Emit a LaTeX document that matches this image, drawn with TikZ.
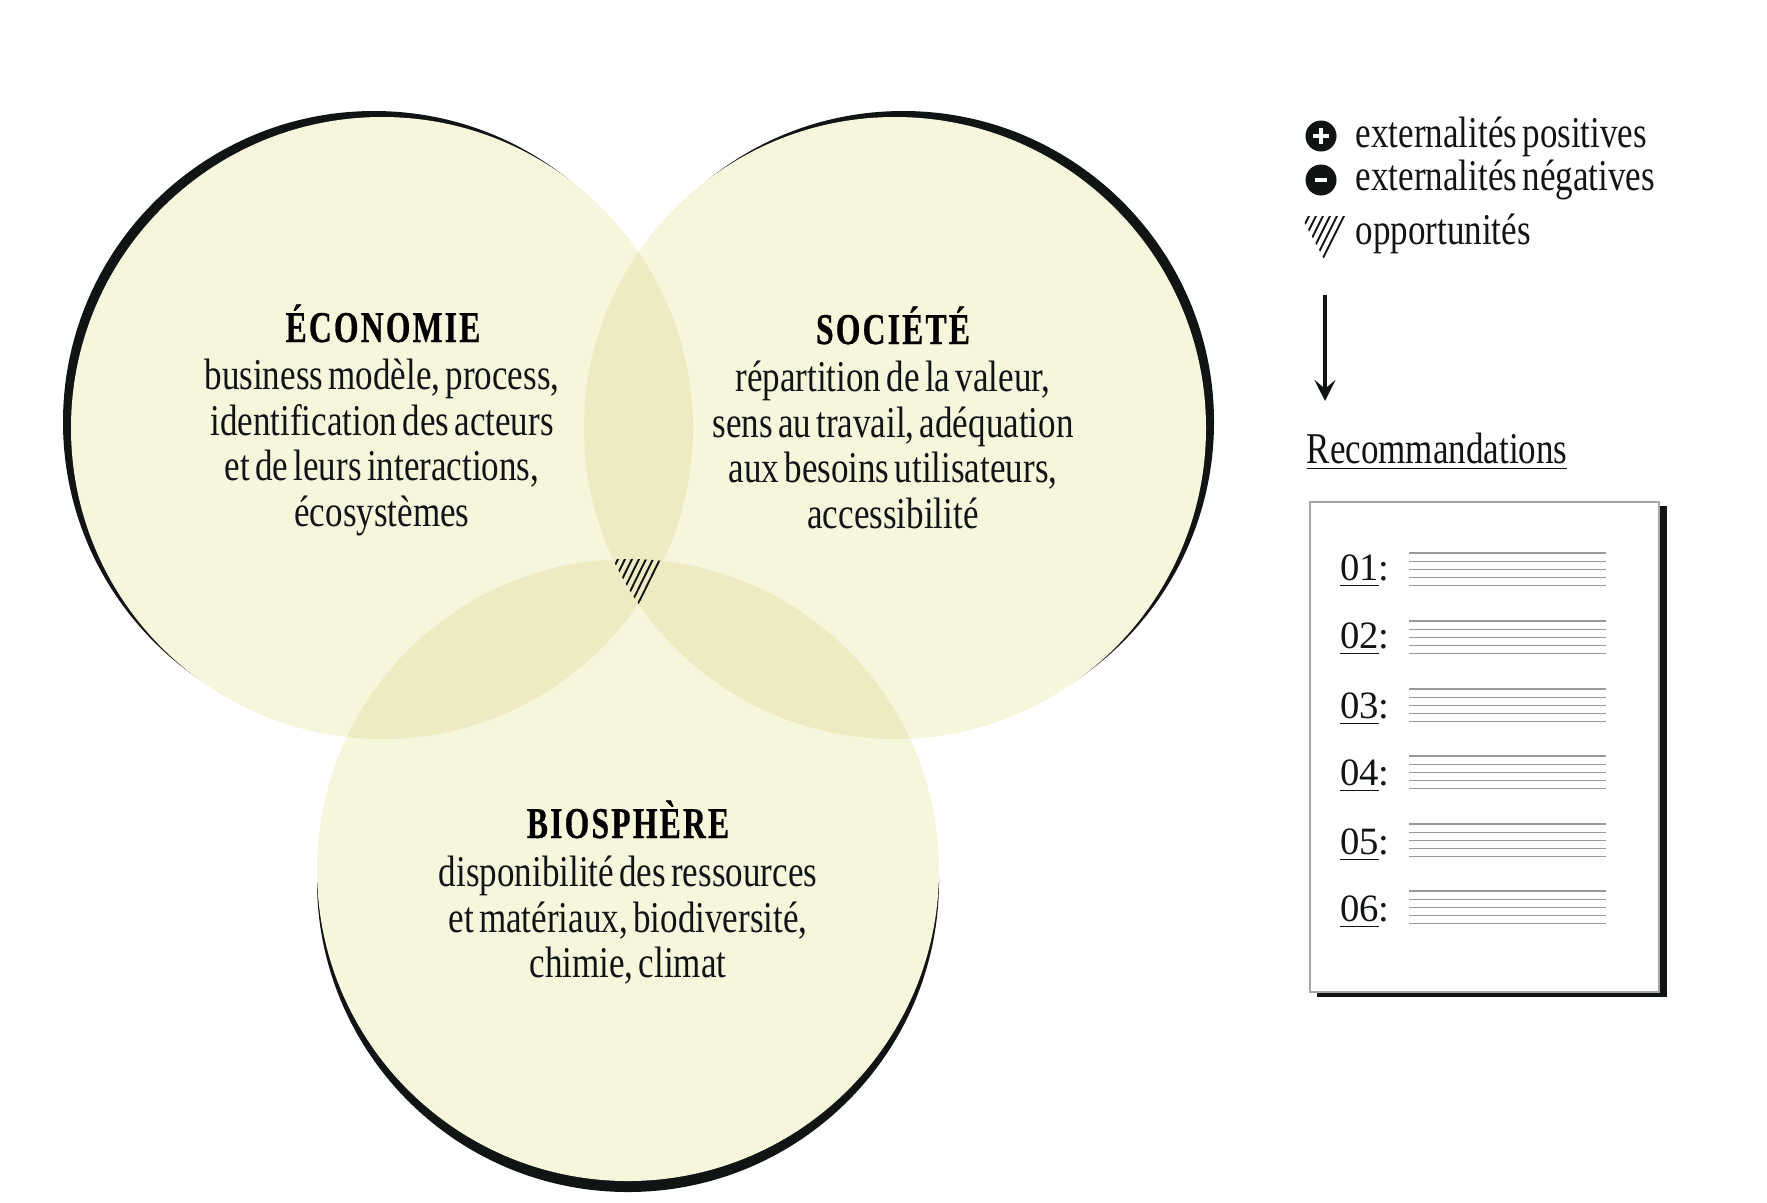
\documentclass[tikz,border=0pt]{standalone}
\usepackage{fontspec}
\usepackage{xcolor}
\usetikzlibrary{arrows.meta, positioning}
\newfontfamily\bodyfont[FakeStretch=0.797, WordSpace=0.6]{Liberation Serif}
\newfontfamily\titlefont[FakeStretch=0.72, LetterSpace=5, BoldFeatures={FakeBold=0.6}]{Liberation Serif}
\newfontfamily\numfont{Liberation Serif}
\definecolor{paleyellow}{HTML}{F6F6DD}
\definecolor{overlapyellow}{HTML}{EEEBC3}
\definecolor{inkblack}{HTML}{111415}
\tikzset{
  titlelabel/.style={anchor=base, inner sep=0pt, text=black, font=\titlefont\bfseries\fontsize{12.5}{13}\selectfont},
  bodylabel/.style={anchor=north, inner sep=0pt, align=center, text=inkblack, font=\bodyfont\fontsize{12.5}{13}\selectfont},
  legendlabel/.style={anchor=base west, inner sep=0pt, text=inkblack, font=\bodyfont\fontsize{12.5}{13}\selectfont},
  numlabel/.style={anchor=base, inner sep=0pt, text=inkblack, font=\numfont\fontsize{11}{12}\selectfont},
  signdot/.style={circle, fill=inkblack, minimum size=0.31cm, inner sep=0pt},
  signbar/.style={white, line width=1.1pt},
  hatchline/.style={inkblack, line width=0.55pt},
  ruleline/.style={black!40, line width=0.35pt},
}
\begin{document}
\begin{tikzpicture}[x=0.01cm, y=-0.01cm]
  \useasboundingbox (0,0) rectangle (1767,1202);
  % Circles
  \foreach \cx/\cy/\dx/\dy in {382/428/-8/-6, 895/428/8/-6, 628/870/0/11} {
    \fill[inkblack] (\cx+\dx, \cy+\dy) circle (311);
  }
  \foreach \cx/\cy in {382/428, 895/428, 628/870} {
    \fill[paleyellow] (\cx, \cy) circle (311);
  }
  % Overlaps
  \foreach \ax/\ay/\bx/\by in {382/428/895/428, 382/428/628/870, 895/428/628/870} {
    \begin{scope}
      \clip (\ax, \ay) circle (311);
      \fill[overlapyellow] (\bx, \by) circle (311);
    \end{scope}
  }
  % Hatching of the centre
  \begin{scope}
    \clip (382, 428) circle (311);
    \clip (895, 428) circle (311);
    \clip (628, 870) circle (311);
    \foreach \x in {620, 627, 634, 641, 648, 655, 662, 669} {
      \draw[hatchline] (\x, 555) -- (\x-27, 610);
    }
  \end{scope}
  % Labels
  \node[titlelabel] (econTitle) at (383, 342) {ÉCONOMIE};
  \node[bodylabel] (econBody) at (382, 358) {business modèle, process,\\identification des acteurs\\et de leurs interactions,\\écosystèmes};
  \node[titlelabel] (socTitle) at (893, 344) {SOCIÉTÉ};
  \node[bodylabel] (socBody) at (893, 360) {répartition de la valeur,\\sens au travail, adéquation\\aux besoins utilisateurs,\\accessibilité};
  \node[titlelabel] (bioTitle) at (628, 838) {BIOSPHÈRE};
  \node[bodylabel] (bioBody) at (628, 855) {disponibilité des ressources\\et matériaux, biodiversité,\\chimie, climat};
  % Legend
  \node[signdot] (plusDot) at (1321, 136) {};
  \draw[signbar] ([xshift=-8*0.01cm]plusDot.center) -- ([xshift=8*0.01cm]plusDot.center);
  \draw[signbar] ([yshift=-8*0.01cm]plusDot.center) -- ([yshift=8*0.01cm]plusDot.center);
  \node[signdot] (minusDot) at (1321, 180) {};
  \draw[signbar] ([xshift=-6*0.01cm]minusDot.center) -- ([xshift=6*0.01cm]minusDot.center);
  \node[legendlabel] (posLabel) at (1355, 147) {externalités positives};
  \node[legendlabel] (negLabel) at (1355, 190) {externalités négatives};
  \node[legendlabel] (oppLabel) at (1355, 244) {opportunités};
  \begin{scope}
    \clip (1301, 216) -- (1348, 216) -- (1325, 261) -- cycle;
    \foreach \x in {1310, 1317, 1324, 1331, 1338, 1345, 1352} {
      \draw[hatchline] (\x, 214) -- (\x-25, 264);
    }
  \end{scope}
  % Arrow
  \coordinate (arrowStart) at (1325, 295);
  \coordinate (arrowEnd) at (1325, 401);
  \draw[inkblack, line width=1.3pt, -{Stealth[length=6pt, width=6pt, inset=2.5pt]}] (arrowStart) -- (arrowEnd);
  \node[legendlabel] (recoLabel) at (1306, 463) {\underline{Recommandations}};
  % Sheet
  \fill[inkblack] (1317, 506) rectangle (1667, 997);
  \draw[fill=white, draw=black!35, line width=0.4pt] (1310, 502) rectangle (1659, 992);
  \foreach \lab/\yb/\yl in {01/580/553, 02/648/621, 03/718/689, 04/785/756, 05/854/824, 06/921/891} {
    \node[numlabel] (num\lab) at (1365, \yb) {\underline{\lab}:};
    \foreach \k in {0,...,4} {
      \draw[ruleline] (1409, \yl+\k*8.2) -- (1606, \yl+\k*8.2);
    }
  }
\end{tikzpicture}
\end{document}
